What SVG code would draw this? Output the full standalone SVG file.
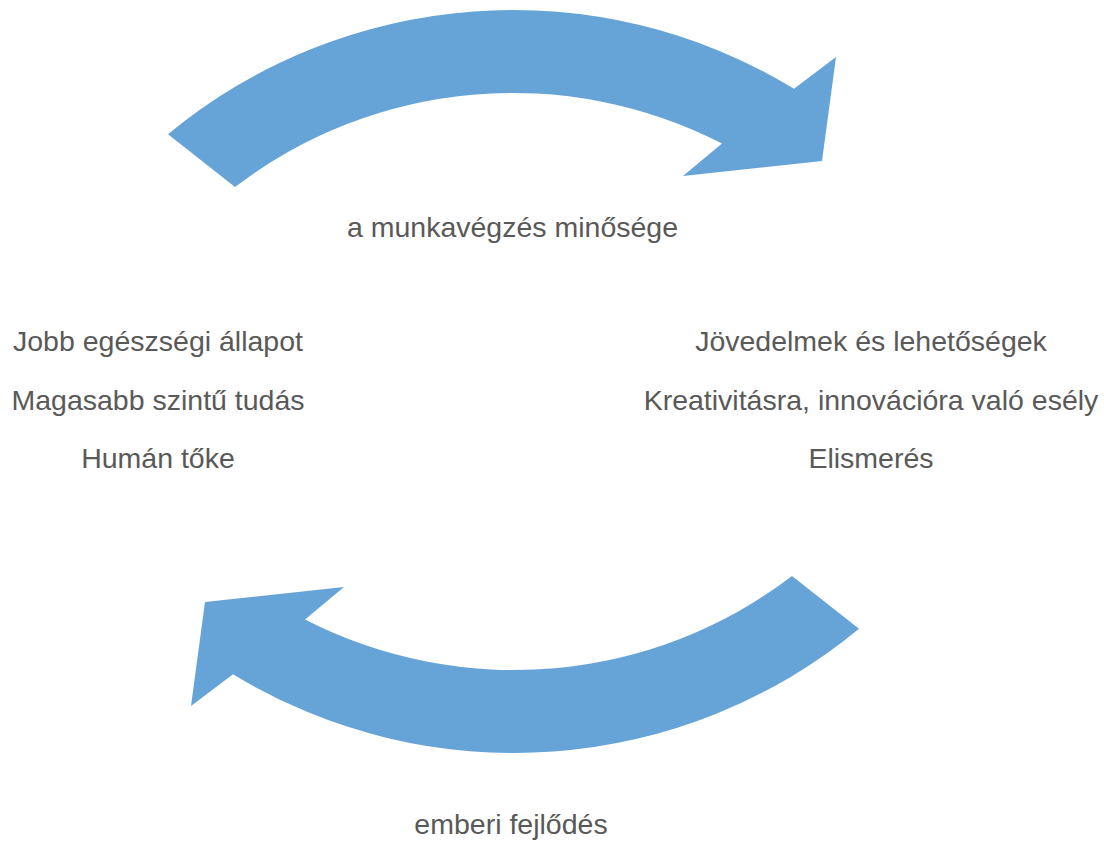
<svg xmlns="http://www.w3.org/2000/svg" width="1104" height="846" viewBox="0 0 1104 846">
<style>
.arrow{fill:#66A3D7;stroke:none}
.t{font-family:"Liberation Sans",Arial,sans-serif;font-size:28.5px;fill:#595959;text-anchor:middle}
</style>
<rect width="1104" height="846" fill="#ffffff"/>
<g id="connectors">
<path id="arrow-top" class="arrow" d="M168,134.3 A541,541 0 0,1 794,88.7 L836,57 L822,161 L683,176 L722,143.5 A458,458 0 0,0 235,187 Z"/>
<path id="arrow-bottom" class="arrow" transform="rotate(180 513.5 381.5)" d="M168,134.3 A541,541 0 0,1 794,88.7 L836,57 L822,161 L683,176 L722,143.5 A458,458 0 0,0 235,187 Z"/>
</g>
<g id="node-top"><text class="t" x="512.5" y="237">a munkavégzés minősége</text></g>
<g id="node-left">
<text class="t" x="158" y="351">Jobb egészségi állapot</text>
<text class="t" x="158" y="410">Magasabb szintű tudás</text>
<text class="t" x="158" y="468">Humán tőke</text>
</g>
<g id="node-right">
<text class="t" x="871" y="351">Jövedelmek és lehetőségek</text>
<text class="t" x="871" y="409.5">Kreativitásra, innovációra való esély</text>
<text class="t" x="871" y="468">Elismerés</text>
</g>
<g id="node-bottom"><text class="t" x="511" y="834">emberi fejlődés</text></g>
</svg>
